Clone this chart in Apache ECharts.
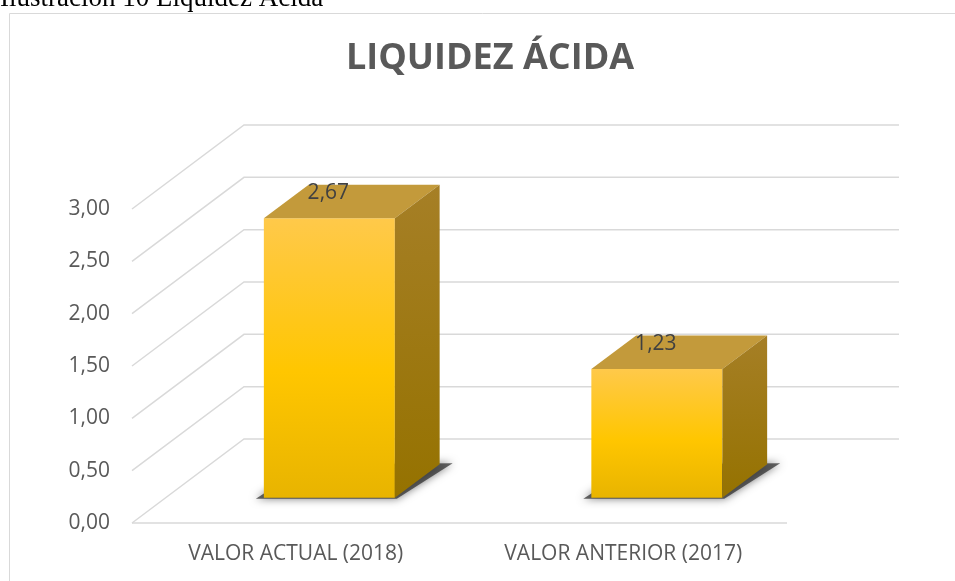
<!DOCTYPE html>
<html>
<head>
<meta charset="utf-8">
<title>Liquidez Ácida</title>
<script src="https://cdn.jsdelivr.net/npm/echarts@6/dist/echarts.min.js"></script>
<style>
  html, body { margin: 0; padding: 0; background: #fff; overflow: hidden; }
  #chart { width: 955px; height: 581px; }
</style>
</head>
<body>
<div id="chart"></div>
<script>
const categories = ['VALOR ACTUAL (2018)', 'VALOR ANTERIOR (2017)'];
const values = [2.67, 1.23];
const yTicks = [0, 0.5, 1, 1.5, 2, 2.5, 3];

// fake 3d: offset of the back wall from the front plane, in px
const DEPTH_X = 112, DEPTH_Y = -84;
const BAR_FRONT = 0.3, BAR_BACK = 0.7; // where the bar sits in the floor depth
const BAR_WIDTH = 0.4;                 // part of the category band

function fmt(v) {
    return v.toFixed(2).replace('.', ',');
}

var dom = document.getElementById('chart');
var myChart = echarts.init(dom);

function renderGrid(params, api) {
    let cs = params.coordSys;
    let v = api.value(1);
    let y = api.coord([0, v])[1];
    let x0 = cs.x, x1 = cs.x + cs.width;
    let style = {stroke: '#d9d9d9', lineWidth: 1.5, fill: 'none'};
    let children = [{
        type: 'polyline',
        shape: {points: [[x0, y], [x0 + DEPTH_X, y + DEPTH_Y], [x1 + DEPTH_X, y + DEPTH_Y]]},
        style: style
    }];
    if (v === 0) {
        children.push({type: 'line', shape: {x1: x0, y1: y, x2: x1, y2: y}, style: style});
    }
    return {type: 'group', children: children};
}

function renderBar(params, api) {
    let idx = api.value(0), val = api.value(1);
    let base = api.coord([idx, 0]);
    let top = api.coord([idx, val]);
    let w = api.size([1, 0])[0] * BAR_WIDTH;
    let fx = base[0] - w / 2 + DEPTH_X * BAR_FRONT;
    let yBot = base[1] + DEPTH_Y * BAR_FRONT;
    let yTop = top[1] + DEPTH_Y * BAR_FRONT;
    let dx = DEPTH_X * (BAR_BACK - BAR_FRONT);
    let dy = DEPTH_Y * (BAR_BACK - BAR_FRONT);

    // soft shadow on the floor, mostly hidden by the bar
    let shadow = {
        type: 'polygon',
        shape: {points: [[fx - 8, yBot + 1], [fx + w + 2, yBot + 1], [fx + w + dx + 13, yBot + dy - 1], [fx + dx, yBot + dy]]},
        style: {fill: 'rgba(50,50,50,0.75)', shadowBlur: 8, shadowColor: 'rgba(0,0,0,0.7)'}
    };
    let front = {
        type: 'rect',
        shape: {x: fx, y: yTop, width: w, height: yBot - yTop},
        style: {
            fill: new echarts.graphic.LinearGradient(0, 0, 0, 1, [
                {offset: 0, color: '#FFC94A'},
                {offset: 0.55, color: '#FFC600'},
                {offset: 1, color: '#E8B400'}
            ])
        }
    };
    let topFace = {
        type: 'polygon',
        shape: {points: [[fx, yTop], [fx + w, yTop], [fx + w + dx, yTop + dy], [fx + dx, yTop + dy]]},
        style: {fill: '#C39A3B'}
    };
    let side = {
        type: 'polygon',
        shape: {points: [[fx + w, yTop], [fx + w + dx, yTop + dy], [fx + w + dx, yBot + dy], [fx + w, yBot]]},
        style: {
            fill: new echarts.graphic.LinearGradient(0, 0, 0, 1, [
                {offset: 0, color: '#A67F26'},
                {offset: 1, color: '#957200'}
            ])
        }
    };
    let label = {
        type: 'text',
        style: {
            text: fmt(val),
            x: fx + w / 2 - 1,
            y: yTop - 25,
            align: 'center',
            verticalAlign: 'middle',
            fill: '#404040',
            font: '21px "Open Sans"'
        }
    };
    return {type: 'group', children: [shadow, front, topFace, side, label]};
}

var option = {
    animation: false,
    grid: {left: 132, right: 168, top: 209, bottom: 58},
    xAxis: {
        type: 'category',
        data: categories,
        axisLine: {show: false},
        axisTick: {show: false},
        axisLabel: {margin: 21, fontSize: 21, color: '#595959', fontFamily: 'Open Sans'}
    },
    yAxis: {
        type: 'value',
        min: 0,
        max: 3,
        interval: 0.5,
        splitLine: {show: false},
        axisLabel: {margin: 22, fontSize: 21, color: '#595959', fontFamily: 'Open Sans', formatter: fmt}
    },
    graphic: [
        {
            type: 'rect',
            shape: {x: 9.5, y: 13.5, width: 980, height: 600},
            style: {fill: 'none', stroke: '#d9d9d9', lineWidth: 1}
        },
        {
            type: 'text',
            style: {text: 'Ilustración 10 Liquidez Ácida', x: 0, y: -15, fill: '#000',
                font: '27px "Liberation Serif"', verticalAlign: 'top'}
        },
        {
            type: 'text',
            style: {text: 'LIQUIDEZ ÁCIDA', x: 490, y: 59, fill: '#595959', align: 'center',
                verticalAlign: 'middle', font: 'bold 36px "Open Sans"'}
        }
    ],
    series: [
        {
            type: 'custom',
            renderItem: renderGrid,
            clip: false,
            silent: true,
            data: yTicks.map(v => [0, v])
        },
        {
            type: 'custom',
            renderItem: renderBar,
            clip: false,
            data: values.map((v, k) => [k, v])
        }
    ]
};
myChart.setOption(option);
</script>
</body>
</html>
